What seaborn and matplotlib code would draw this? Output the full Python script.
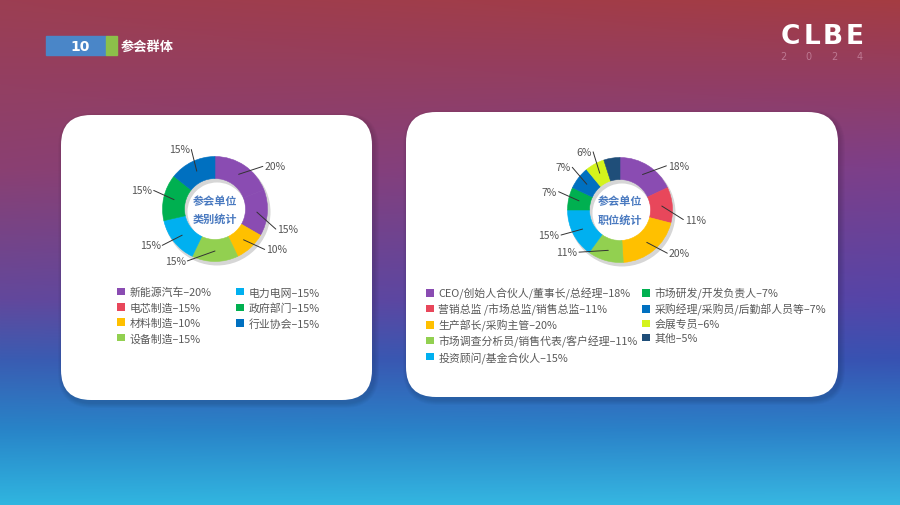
import numpy as np
import matplotlib
matplotlib.use("Agg")
import matplotlib.pyplot as plt
from matplotlib.patches import FancyBboxPatch, Patch, Rectangle, Wedge
import seaborn as sns

sns.set_theme(style="white")
plt.rcParams['font.family'] = ['Noto Sans CJK SC', 'DejaVu Sans']

# ---- data ----
cat_names = ['新能源汽车', '电芯制造', '材料制造', '设备制造', '电力电网', '政府部门', '行业协会']
cat_values = [20, 15, 10, 15, 15, 15, 15]
cat_colors = ['#8a4cb2', '#e8475b', '#ffc000', '#92d050', '#00b0f0', '#00b050', '#0070c0']
# on the slide the 电芯制造 slice is painted in the same purple as 新能源汽车
cat_slice_colors = ['#8a4cb2', '#8a4cb2', '#ffc000', '#92d050', '#00b0f0', '#00b050', '#0070c0']

pos_names = ['CEO/创始人合伙人/董事长/总经理', '营销总监 /市场总监/销售总监', '生产部长/采购主管',
             '市场调查分析员/销售代表/客户经理', '投资顾问/基金合伙人', '市场研发/开发负责人',
             '采购经理/采购员/后勤部人员等', '会展专员', '其他']
pos_values = [18, 11, 20, 11, 15, 7, 7, 6, 5]
pos_colors = ['#8a4cb2', '#e8475b', '#ffc000', '#92d050', '#00b0f0', '#00b050', '#0070c0', '#d4f31c', '#1f4e79']
pos_labelled = [True, True, True, True, True, True, True, True, False]

W, H = 900, 506
fig = plt.figure(figsize=(9, 5.06), dpi=100)
ax = fig.add_axes([0, 0, 1, 1])

# background gradient
ys = np.array([0, 170, 300, 360, 430, 506])
left_c = np.array([[0x9c, 0x3e, 0x52], [0x8a, 0x40, 0x72], [0x62, 0x48, 0x9c], [0x3a, 0x5c, 0xb2], [0x28, 0x84, 0xc8], [0x30, 0xb6, 0xe0]]) / 255
right_c = np.array([[0xa5, 0x3c, 0x42], [0x7c, 0x3f, 0x8a], [0x55, 0x45, 0xa8], [0x38, 0x52, 0xb2], [0x2c, 0x80, 0xc8], [0x38, 0xb8, 0xe2]]) / 255
yy = np.arange(H)
lc = np.stack([np.interp(yy, ys, left_c[:, i]) for i in range(3)], axis=1)
rc = np.stack([np.interp(yy, ys, right_c[:, i]) for i in range(3)], axis=1)
t = np.linspace(0, 1, W)[None, :, None]
bg = lc[:, None, :] * (1 - t) + rc[:, None, :] * t
ax.imshow(bg, extent=[0, W, H, 0], origin='upper', zorder=0)

# header
ax.add_patch(Rectangle((46, 37), 60, 19, color='#4a86c8', zorder=2))
ax.add_patch(Rectangle((106, 37), 11, 19, color='#8cc04a', zorder=2))
ax.text(80, 46.5, '10', color='white', fontsize=10, fontweight='bold', ha='center', va='center', family='DejaVu Sans')
ax.text(121, 46.5, '参会群体', color='white', fontsize=9.5, fontweight='bold', ha='left', va='center')

# logo
for i, ch in enumerate('CLBE'):
    ax.text(790 + i * 21.5, 37, ch, color='white', fontsize=19, fontweight='heavy', ha='center', va='center', family='DejaVu Sans')
for i, ch in enumerate('2024'):
    ax.text(783 + i * 25.5, 56.5, ch, color='#d8a0b8', alpha=0.6, fontsize=7, ha='center', va='center', family='DejaVu Sans')

# white panels with soft shadow
def panel(x0, y0, x1, y1):
    for k in range(5, 0, -1):
        ax.add_patch(FancyBboxPatch((x0 - k + 2, y0 - k + 3), x1 - x0 + 2 * k, y1 - y0 + 2 * k,
                                    boxstyle=f"round,pad=0,rounding_size={30 + k}",
                                    fc='black', ec='none', alpha=0.025, zorder=1))
    ax.add_patch(FancyBboxPatch((x0, y0), x1 - x0, y1 - y0, boxstyle="round,pad=0,rounding_size=30",
                                fc='white', ec='none', zorder=2))

panel(61, 116, 372, 401)
panel(406, 113, 838, 398)

R = 52.5
RW = 22

def donut(values, colors, center, labelled, title):
    cx, cy = center
    ax.add_patch(Wedge((cx + 2, cy + 3), R + 1, 0, 360, width=RW + 2, fc='black', ec='none', alpha=0.16, zorder=3))
    wedges, _ = ax.pie(values, colors=colors, startangle=-90, counterclock=True, center=center, radius=R,
                       wedgeprops=dict(width=RW, linewidth=0.4), frame=True)
    for w in wedges:
        w.set_zorder(4)
        w.set_edgecolor(w.get_facecolor())
    for w, v, show in zip(wedges, values, labelled):
        if not show:
            continue
        mid = (w.theta1 + w.theta2) / 2
        x0 = cx + 0.8 * R * np.cos(np.deg2rad(mid))
        y0 = cy + 0.8 * R * np.sin(np.deg2rad(mid))
        # visual angle (y axis points down), nudged like the hand-placed labels on the slide
        phi = (-mid + 180) % 360 - 180
        dist = 1.22
        if abs(np.cos(np.deg2rad(phi))) < 0.35 and phi < 0:
            phi -= 28
            dist = 1.12
        elif -30 < phi < 90:
            phi -= 14
        elif -90 < phi <= -30:
            phi += 8
        else:
            phi -= 4
        x1 = cx + dist * R * np.cos(np.deg2rad(phi))
        y1 = cy - dist * R * np.sin(np.deg2rad(phi))
        ax.plot([x0, x1], [y0, y1], color='#333333', lw=0.7, zorder=5)
        right = x1 >= cx
        ax.text(x1 + (1.5 if right else -1.5), y1, f'{v}%', ha='left' if right else 'right', va='center',
                fontsize=7.5, color='#555555', zorder=5)
    ax.text(cx, cy, title, ha='center', va='center', fontsize=8, fontweight='bold', color='#4a7ac0',
            linespacing=1.5, zorder=5)

donut(cat_values, cat_slice_colors, (215, 210), [True] * len(cat_values), '参会单位\n类别统计')
donut(pos_values, pos_colors, (620, 211), pos_labelled, '参会单位\n职位统计')

def legend(names, values, colors, x, y, colsp, lsp):
    handles = [Patch(fc=c, ec='none') for c in colors]
    labels = [f'{n}–{v}%' for n, v in zip(names, values)]
    fig.legend(handles, labels, ncol=2, loc='upper left', bbox_to_anchor=(x / W, 1 - y / H),
               frameon=False, fontsize=7.8, handlelength=0.7, handleheight=0.7, handletextpad=0.45,
               columnspacing=colsp, labelspacing=lsp, borderpad=0, borderaxespad=0, labelcolor='#595959')

legend(cat_names, cat_values, cat_colors, 117, 288, 2.3, 0.46)
legend(pos_names, pos_values, pos_colors, 426, 288, 0.4, 0.36)

ax.set_xlim(0, W)
ax.set_ylim(H, 0)
ax.set_aspect('equal')
ax.axis('off')
fig.savefig('out.png', dpi=100)
